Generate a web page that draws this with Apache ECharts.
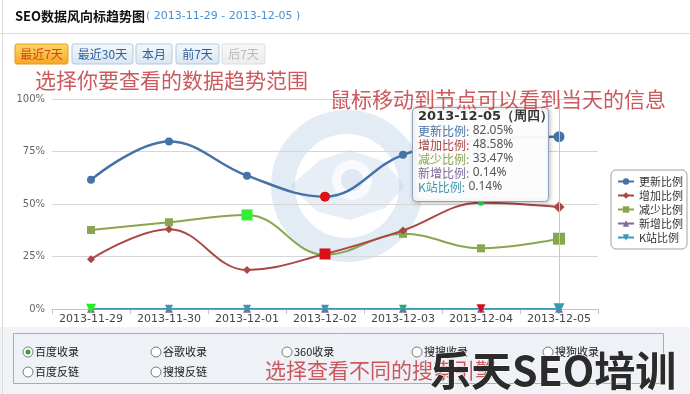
<!DOCTYPE html>
<html><head><meta charset="utf-8">
<style>html,body{margin:0;padding:0;background:#fff}#c{width:690px;height:394px}</style>
<script src="https://cdn.jsdelivr.net/npm/echarts@6/dist/echarts.min.js"></script>
</head><body><div id="c"></div>
<script>
const categories = ['2013-11-29','2013-11-30','2013-12-01','2013-12-02','2013-12-03','2013-12-04','2013-12-05'];
const seriesNames = ['更新比例','增加比例','减少比例','新增比例','K站比例'];
const updateRatio = [61.5, 79.8, 63.5, 53.5, 73.4, 80.5, 82.05];
const increaseRatio = [23.7, 38.0, 18.6, 26.2, 37.4, 50.6, 48.58];
const decreaseRatio = [37.6, 41.3, 44.8, 25.8, 35.8, 28.9, 33.47];
const newRatio = [0.14, 0.14, 0.14, 0.14, 0.14, 0.14, 0.14];
const kRatio = [0.14, 0.14, 0.14, 0.14, 0.14, 0.14, 0.14];
const yTicks = [0, 25, 50, 75, 100];
const tipIndex = 6;
const tipDate = '2013-12-05（周四）';

const colors = ['#4572a7','#aa4643','#89a54e','#80699b','#3d96ae'];
const symbols = ['circle','diamond','rect','triangle','triangle'];
const rotates = [0,0,0,0,180];
const sizes = [8,8,8,8,8];
const widths = [2.5,2,2,1.5,1.5];
const zs = [3,4,3,3,5];
// per-point marker highlight styling (as seen in the screenshot)
const highlights = {
  0: {3:{color:'#e0101a',size:10}, 6:{size:11}},
  1: {3:{color:'#d8101a',size:11,symbol:'rect'}, 5:{color:'#22dd44',size:6,symbol:'circle'}, 6:{size:11}},
  2: {2:{color:'#33ee33',size:11}, 6:{size:12}},
  3: {},
  4: {0:{color:'#22ee22',size:10}, 4:{color:'#2aa87a',size:8}, 5:{color:'#d0101a',size:9}, 6:{size:11}}
};
const allData = [updateRatio, increaseRatio, decreaseRatio, newRatio, kRatio];

const series = allData.map((arr, si) => ({
  name: seriesNames[si], type: 'line', smooth: 0.4,
  symbol: symbols[si], symbolSize: sizes[si], symbolRotate: rotates[si],
  showAllSymbol: true, z: zs[si],
  itemStyle: {color: colors[si], borderWidth: 0},
  lineStyle: {width: widths[si], color: colors[si]},
  data: arr.map((v, i) => {
    const h = highlights[si][i];
    if (!h) return v;
    const o = {value: v};
    if (h.size) o.symbolSize = h.size;
    if (h.symbol) { o.symbol = h.symbol; o.symbolRotate = 0; }
    if (h.color) o.itemStyle = {color: h.color, borderColor: h.color};
    return o;
  }),
  markLine: si === 0 ? {
    silent: true, symbol: ['none','none'], label: {show: false},
    lineStyle: {color: '#c8c8c8', type: 'solid', width: 1},
    data: [{xAxis: categories[tipIndex]}]
  } : undefined
}));

function btn(x, w, label, kind) {
  const fills = {
    on: {type:'linear',x:0,y:0,x2:0,y2:1,colorStops:[{offset:0,color:'#ffd86a'},{offset:1,color:'#f7a623'}]},
    off:{type:'linear',x:0,y:0,x2:0,y2:1,colorStops:[{offset:0,color:'#f4f8fc'},{offset:1,color:'#d9e5f2'}]},
    dis:{type:'linear',x:0,y:0,x2:0,y2:1,colorStops:[{offset:0,color:'#f8f8f8'},{offset:1,color:'#ececec'}]}
  };
  const strokes = {on:'#e59a1a', off:'#b5c9df', dis:'#dddddd'};
  const tc = {on:'#d0441c', off:'#2f5f9e', dis:'#b8b8b8'};
  return [
    {type:'rect', shape:{x:x, y:44, width:w, height:20, r:2}, style:{fill:fills[kind], stroke:strokes[kind], lineWidth:1}},
    {type:'text', x:x + w/2, y:54, style:{text:label, fill:tc[kind], font:'12px "Noto Sans CJK SC"', align:'center', verticalAlign:'middle'}}
  ];
}
function radio(x, y, label, checked) {
  const g = [
    {type:'circle', shape:{cx:x, cy:y, r:5}, style:{fill:'#fff', stroke:'#7a7a7a', lineWidth:1}, z:50},
    {type:'text', x:x+7, y:y, style:{text:label, fill:'#222', font:'11px "Noto Sans CJK SC"', verticalAlign:'middle'}, z:50}
  ];
  if (checked) g.push({type:'circle', shape:{cx:x, cy:y, r:2.5}, style:{fill:'#3c9a3c'}, z:51});
  return g;
}

const tipText = ['{h|' + tipDate + '}'].concat(seriesNames.map((n, si) =>
  '{l' + si + '|' + n + ':} {v|' + allData[si][tipIndex].toFixed(2) + '%}')).join('\n');
const richTip = {h:{font:'bold 13px "DejaVu Sans"', fill:'#333', lineHeight:14}, v:{font:'12px "Noto Sans"', fill:'#555', lineHeight:14}};
colors.forEach((c, i) => richTip['l'+i] = {font:'12px "Noto Sans CJK SC"', fill:c, lineHeight:14});

const redText = '#c5474b';
const graphics = [
  {type:'rect', shape:{x:0, y:327, width:690, height:67}, style:{fill:'#f1f3f6'}, z:-10},
  {type:'line', shape:{x1:2.5, y1:0, x2:2.5, y2:394}, style:{stroke:'#dcdcdc', lineWidth:1}},
  {type:'line', shape:{x1:0, y1:33.5, x2:690, y2:33.5}, style:{stroke:'#dddddd', lineWidth:1}},
  {type:'text', x:15, y:16, style:{text:'SEO数据风向标趋势图', fill:'#111', font:'bold 13px "Noto Sans CJK SC"', verticalAlign:'middle'}},
  {type:'text', x:146, y:16, style:{text:'( 2013-11-29 - 2013-12-05 )', fill:'#4a8fd0', font:'11px "DejaVu Sans"', verticalAlign:'middle'}},
  // watermark logo
  {type:'circle', shape:{cx:347, cy:186, r:64}, style:{fill:'none', stroke:'rgba(185,205,228,0.4)', lineWidth:24}, z:-5},
  {type:'polygon', shape:{points:[[290,186],[320,160],[350,150],[385,162],[405,186],[385,208],[350,220],[318,212]]}, style:{fill:'rgba(185,205,228,0.35)'}, z:-5},
  {type:'circle', shape:{cx:352, cy:180, r:20}, style:{fill:'rgba(255,255,255,0.7)'}, z:-5},
  {type:'circle', shape:{cx:352, cy:180, r:11}, style:{fill:'rgba(185,205,228,0.4)'}, z:-5},
  // tooltip
  {type:'rect', shape:{x:412.5, y:107.5, width:136, height:94, r:4}, style:{fill:'rgba(255,255,255,0.95)', stroke:'#8da2bd', lineWidth:1, shadowBlur:4, shadowColor:'rgba(0,0,0,0.25)', shadowOffsetX:1, shadowOffsetY:1}, z:60},
  {type:'text', x:418, y:110, style:{text:tipText, rich:richTip}, z:61},
  // red annotations
  {type:'text', x:35, y:80, style:{text:'选择你要查看的数据趋势范围', fill:redText, font:'21px "Noto Sans CJK SC"', verticalAlign:'middle', opacity:0.9}, z:70},
  {type:'text', x:330, y:99, style:{text:'鼠标移动到节点可以看到当天的信息', fill:redText, font:'21px "Noto Sans CJK SC"', verticalAlign:'middle', opacity:0.9}, z:70},
  // bottom panel
  {type:'rect', shape:{x:13.5, y:333.5, width:650, height:50}, style:{fill:'#eef1f5', stroke:'#d79a9a', lineWidth:1}, z:-4},
  {type:'text', x:265, y:370, style:{text:'选择查看不同的搜索引擎', fill:redText, font:'21px "Noto Sans CJK SC"', verticalAlign:'middle', opacity:0.9}, z:70},
  {type:'text', x:430, y:370, style:{text:'乐天SEO培训', fill:'#2b2b2b', font:'bold 41px "Noto Sans CJK SC"', verticalAlign:'middle', stroke:'#ffffff', lineWidth:1}, z:80}
];
graphics.push(...btn(15,53,'最近7天','on'), ...btn(72,61,'最近30天','off'), ...btn(136,36,'本月','off'), ...btn(176,43,'前7天','off'), ...btn(222,43,'后7天','dis'));
graphics.push(...radio(28,352,'百度收录',true), ...radio(156,352,'谷歌收录'), ...radio(287,352,'360收录'), ...radio(417,352,'搜搜收录'), ...radio(548,352,'搜狗收录'), ...radio(28,372,'百度反链'), ...radio(156,372,'搜搜反链'));

const chart = echarts.init(document.getElementById('c'), null, {renderer:'canvas'});
chart.setOption({
  animation: false,
  color: colors,
  grid: {left:52, right:92, top:99, bottom:85, containLabel:false},
  legend: {
    orient:'vertical', left:611, top:170, data: seriesNames,
    backgroundColor:'#fff', borderColor:'#a0a0a0', borderWidth:1, borderRadius:5,
    padding:[5,4,5,6], itemGap:1, itemWidth:16, itemHeight:8,
    textStyle:{fontSize:11, color:'#333', lineHeight:13, fontFamily:'"Noto Sans CJK SC"'}
  },
  xAxis: {
    type:'category', data: categories, boundaryGap:true,
    axisLine:{lineStyle:{color:'#b8c4d0'}},
    axisTick:{show:true, length:5, lineStyle:{color:'#b8c4d0'}},
    axisLabel:{fontSize:11, color:'#444', margin:5, fontFamily:'"DejaVu Sans"', interval:0}
  },
  yAxis: {
    type:'value', min:yTicks[0], max:yTicks[yTicks.length-1], interval:25,
    axisLine:{show:false}, axisTick:{show:false},
    axisLabel:{formatter:'{value}%', fontSize:10, color:'#666', margin:7, fontFamily:'"DejaVu Sans"'},
    splitLine:{lineStyle:{color:'#d6d6d6'}}
  },
  series: series,
  graphic: graphics
});
</script></body></html>
